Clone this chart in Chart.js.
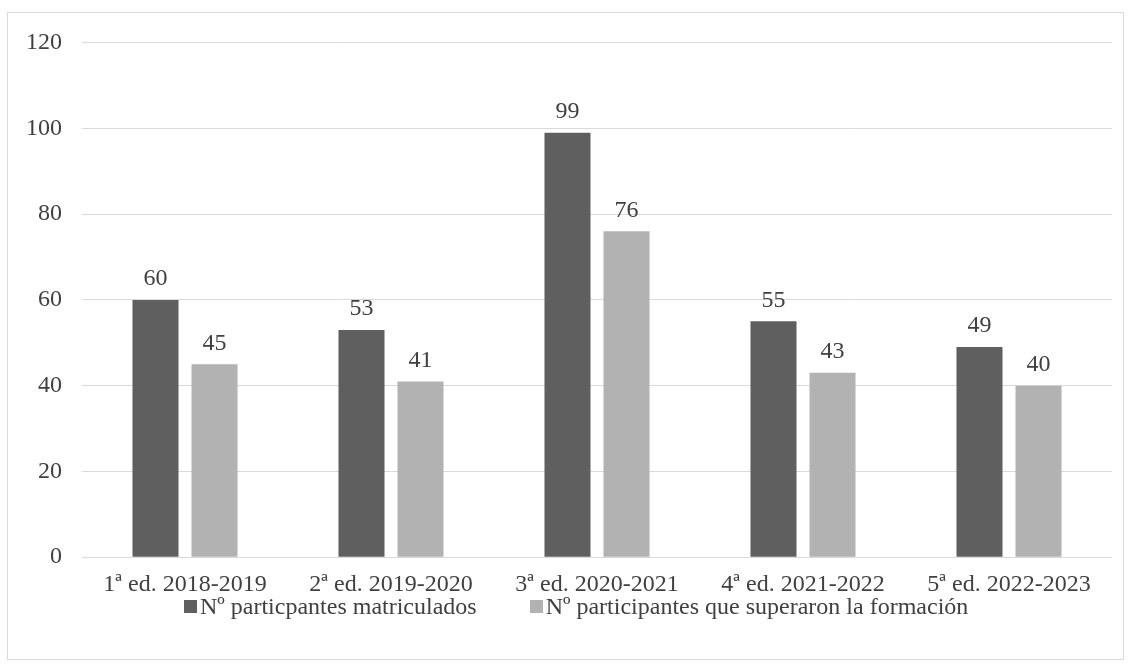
<!DOCTYPE html>
<html>
<head>
<meta charset="utf-8">
<script src="https://cdn.jsdelivr.net/npm/chart.js@4/dist/chart.umd.min.js"></script>
<style>
  html, body { margin: 0; padding: 0; background: #fff; }
  #marco {
    position: absolute; left: 7px; top: 12px;
    width: 1115px; height: 646px;
    border: 1px solid #d9d9d9;
  }
  #lienzo { position: absolute; left: 0; top: 0; width: 1115px; height: 591px; }
  #leyenda {
    position: absolute; left: 176px; top: 581px; height: 24px;
    display: flex; align-items: center; gap: 53px;
    font: 24px 'Liberation Serif', 'Times New Roman', serif; color: #404040;
    white-space: nowrap;
  }
  #leyenda .item { display: flex; align-items: center; gap: 3px; }
  #leyenda .caja { width: 13px; height: 13px; display: inline-block; }
</style>
</head>
<body>
<div id="marco">
  <div id="lienzo"><canvas id="grafico"></canvas></div>
  <div id="leyenda"></div>
</div>
<script>
// Datos del gráfico
const ediciones = ['1ª ed. 2018-2019', '2ª ed. 2019-2020', '3ª ed. 2020-2021', '4ª ed. 2021-2022', '5ª ed. 2022-2023'];
const matriculados = [60, 53, 99, 55, 49];
const superaron = [45, 41, 76, 43, 40];
const etiquetasSeries = ['Nº particpantes matriculados', 'Nº participantes que superaron la formación'];
const colores = ['#5f5f5f', '#b2b2b2'];

const fuente = "'Liberation Serif', 'Times New Roman', serif";

// Etiquetas de valor encima de cada barra
const etiquetasValor = {
    id: 'etiquetasValor',
    afterDatasetsDraw(chart) {
        const ctx = chart.ctx;
        ctx.save();
        ctx.font = '24px ' + fuente;
        ctx.fillStyle = '#404040';
        ctx.textAlign = 'center';
        ctx.textBaseline = 'bottom';
        chart.data.datasets.forEach((ds, i) => {
            chart.getDatasetMeta(i).data.forEach((barra, j) => {
                ctx.fillText(ds.data[j], barra.x, barra.y - 9);
            });
        });
        ctx.restore();
    }
};

const grafico = new Chart(document.getElementById('grafico'), {
    type: 'bar',
    data: {
        labels: ediciones,
        datasets: [
            { label: etiquetasSeries[0], data: matriculados, backgroundColor: colores[0] },
            { label: etiquetasSeries[1], data: superaron, backgroundColor: colores[1] }
        ]
    },
    options: {
        responsive: true,
        maintainAspectRatio: false,
        animation: false,
        categoryPercentage: 0.573,
        barPercentage: 0.78,
        layout: { padding: { top: 0, right: 11, bottom: 0, left: 0 } },
        scales: {
            x: {
                grid: { display: false },
                border: { display: false },
                ticks: { color: '#404040', font: { family: fuente, size: 24 }, padding: 5, maxRotation: 0 }
            },
            y: {
                min: 0,
                max: 120,
                ticks: { stepSize: 20, color: '#404040', font: { family: fuente, size: 24, lineHeight: 0.8 }, padding: 20 },
                grid: { color: '#d9d9d9', lineWidth: 1, drawTicks: false },
                border: { display: false },
                afterFit(scale) { scale.width = 74; }
            }
        },
        plugins: {
            legend: { display: false },
            tooltip: { enabled: false }
        }
    },
    plugins: [etiquetasValor]
});

// Leyenda en HTML a partir de los datasets
const leyenda = document.getElementById('leyenda');
grafico.data.datasets.forEach(ds => {
    const item = document.createElement('span');
    item.className = 'item';
    item.innerHTML = `<span class="caja" style="background:${ds.backgroundColor}"></span><span>${ds.label}</span>`;
    leyenda.appendChild(item);
});
</script>
</body>
</html>
